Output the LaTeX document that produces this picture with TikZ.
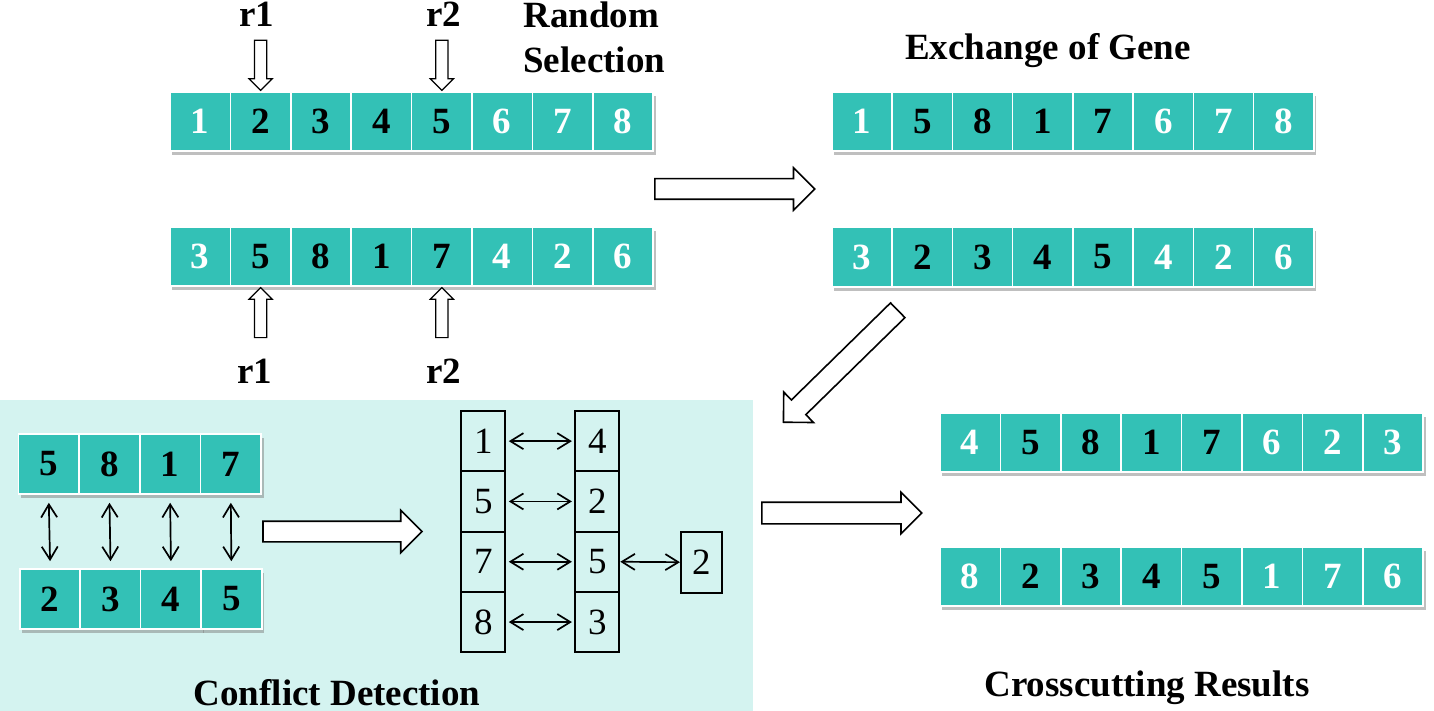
\documentclass[tikz,border=0pt]{standalone}
\usepackage{fontspec}
\setmainfont{Liberation Serif}
\usepackage{tikz}
\usetikzlibrary{shapes.arrows, arrows.meta, positioning, shadows, calc}
\definecolor{GeneTeal}{HTML}{33C1B6}
\definecolor{PanelCyan}{HTML}{D4F3F0}
\newcommand{\genefont}{\fontsize{18.5}{22.5}\selectfont\bfseries}
\newcommand{\slotfont}{\fontsize{18.5}{22.5}\selectfont}
\tikzset{
  genecell/.style={rectangle, draw=white, line width=0.8pt, fill=GeneTeal, minimum width=30.2pt, minimum height=29.5pt, inner sep=0pt, font=\genefont, drop shadow={shadow xshift=1.2pt, shadow yshift=-1.8pt, opacity=0.5}},
  conflictcell/.style={genecell, minimum width=30.35pt, minimum height=30pt},
  slotbox/.style={rectangle, draw=black, line width=1pt, minimum width=22pt, minimum height=30.15pt, inner sep=0pt, font=\slotfont},
  titletext/.style={inner sep=0pt, font=\genefont},
  pointer/.style={single arrow, draw=black, fill=white, line width=0.6pt, minimum height=25pt, minimum width=11pt, single arrow head extend=2.75pt, inner xsep=0pt, inner ysep=2.75pt},
  bigarrow/.style={single arrow, draw=black, fill=white, line width=0.8pt, minimum height=80pt, minimum width=20.5pt, single arrow head extend=5.5pt, inner xsep=0pt, inner ysep=4.75pt},
  swaparrow/.style={{Straight Barb[length=6.5pt, width=8pt]}-{Straight Barb[length=6.5pt, width=8pt]}, line width=0.85pt}
}
\begin{document}
\begin{tikzpicture}[x=0.5pt, y=-0.5pt]
  \useasboundingbox (0,0) rectangle (1434,711);
  \fill[PanelCyan] (0,400) rectangle (753,711);

  % parent chromosomes
  \foreach \v/\c [count=\i] in {1/white,2/black,3/black,4/black,5/black,6/white,7/white,8/white}
    \node[genecell, text=\c] (pa\i) at ({170+60.4*(\i-0.5)},121.5) {\v};
  \foreach \v/\c [count=\i] in {3/white,5/black,8/black,1/black,7/black,4/white,2/white,6/white}
    \node[genecell, text=\c] (pb\i) at ({170+60.4*(\i-0.5)},256.5) {\v};

  % random cut points
  \node[pointer, rotate=-90, anchor=tip] (pa-r1) at (pa2.north) {};
  \node[pointer, rotate=-90, anchor=tip] (pa-r2) at (pa5.north) {};
  \node[pointer, rotate=90, anchor=tip] (pb-r1) at (pb2.south) {};
  \node[pointer, rotate=90, anchor=tip] (pb-r2) at (pb5.south) {};
  \node[titletext, anchor=base] (r1top) at (257,27) {r1};
  \node[titletext, anchor=base] (r2top) at (444,27) {r2};
  \node[titletext, anchor=base] (r1bot) at (255,383) {r1};
  \node[titletext, anchor=base] (r2bot) at (444,383) {r2};
  \node[titletext, anchor=north west, align=left] (select) at (523,1) {Random\\Selection};

  % exchanged chromosomes
  \foreach \v/\c [count=\i] in {1/white,5/black,8/black,1/black,7/black,6/white,7/white,8/white}
    \node[genecell, text=\c] (ca\i) at ({832+60.25*(\i-0.5)},121.5) {\v};
  \foreach \v/\c [count=\i] in {3/white,2/black,3/black,4/black,5/black,4/white,2/white,6/white}
    \node[genecell, text=\c, minimum height=30pt] (cb\i) at ({832+60.25*(\i-0.5)},257) {\v};
  \node[titletext, anchor=base] (exchange) at (1048,60) {Exchange of Gene};

  % conflict detection
  \foreach \v [count=\i] in {5,8,1,7}
    \node[conflictcell] (ft\i) at ({18.3+60.7*(\i-0.5)},464) {\v};
  \foreach \v [count=\i] in {2,3,4,5}
    \node[conflictcell] (fb\i) at ({20+60.4*(\i-0.5)},599) {\v};
  \foreach \i in {1,...,4}
    \draw[swaparrow, shorten <=4pt, shorten >=3.5pt] (ft\i.south) -- (fb\i.north);

  \foreach \v [count=\i] in {1,5,7,8}
    \node[slotbox] (sl\i) at ({483.4},{411+60.3*(\i-0.5)}) {\v};
  \foreach \v [count=\i] in {4,2,5,3}
    \node[slotbox] (sr\i) at ({597.3},{411+60.3*(\i-0.5)}) {\v};
  \node[slotbox, minimum width=20.35pt, minimum height=30.5pt] (sx) at (701.3,562.2) {2};
  \foreach \i in {1,...,4}
    \draw[swaparrow, shorten <=1.2pt, shorten >=1.2pt] (sl\i.east) -- (sr\i.west);
  \draw[swaparrow] (sr3.east) -- (sx.west);
  \node[titletext, anchor=base] (conflict) at (337,705) {Conflict Detection};

  % crossover results
  \foreach \v/\c [count=\i] in {4/white,5/black,8/black,1/black,7/black,6/white,2/white,3/white}
    \node[genecell, text=\c] (ra\i) at ({940+60.4*(\i-0.5)},442.5) {\v};
  \foreach \v/\c [count=\i] in {8/white,2/black,3/black,4/black,5/black,1/white,7/white,6/white}
    \node[genecell, text=\c] (rb\i) at ({940+60.4*(\i-0.5)},576.5) {\v};
  \node[titletext, anchor=base] (result) at (1147,696.7) {Crosscutting Results};

  % flow arrows
  \node[bigarrow, anchor=tail] (toexchange) at ($(pa8.east)!0.5!(pb8.east)$) {};
  \node[bigarrow, anchor=tail, rotate=224.4] (toconflict) at (898.3,309.7) {};
  \node[bigarrow, minimum height=79.5pt, anchor=tail] (todetect) at ($(ft4.east)!0.5!(fb4.east)$) {};
  \node[bigarrow, inner ysep=5pt, single arrow head extend=5pt, anchor=tail] (toresult) at (761,513) {};
\end{tikzpicture}
\end{document}
